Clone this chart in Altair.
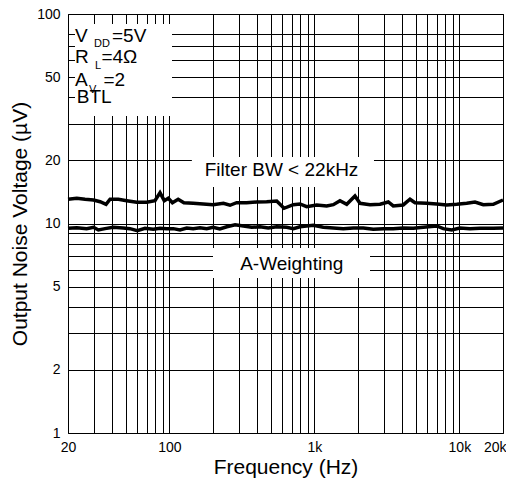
import altair as alt
import pandas as pd

# ---- data ----
bw_freq = [20, 23, 26.2, 30, 33.3, 36.6, 39, 44.5, 50.8, 59.6, 69.8, 79.6, 86.2, 92.3, 98.3,
           105, 115, 126, 146, 171, 200, 236, 262, 291, 341, 400, 469, 550, 618, 716, 796,
           885, 1038, 1216, 1352, 1502, 1672, 1906, 2064, 2420, 2838, 3236, 3500, 4100,
           4568, 4944, 5956, 6980, 8180, 9592, 11240, 12820, 14620, 17140, 20000]
bw_uv = [13.05, 13.19, 13.05, 12.95, 12.71, 12.35, 13.05, 13.05, 12.85, 12.63, 12.63, 12.85,
         14.03, 12.85, 13.19, 12.57, 13.05, 12.57, 12.49, 12.40, 12.30, 12.49, 12.22, 12.57,
         12.57, 12.67, 12.71, 12.81, 11.82, 12.30, 12.40, 12.03, 12.26, 12.13, 12.30, 12.85,
         12.35, 13.53, 12.49, 12.30, 12.35, 12.67, 12.13, 12.26, 13.05, 12.57, 12.49, 12.40,
         12.26, 12.35, 12.49, 12.67, 12.30, 12.35, 12.95]

aw_freq = [20, 23, 26.9, 30, 32.4, 36, 41, 48.1, 53.5, 60.1, 67.9, 77.5, 86.2, 95.9, 106.5,
           118.4, 131.8, 146, 162.6, 181, 200, 223, 249, 284, 324, 370, 422, 481, 550, 644,
           716, 796, 885, 984, 1152, 1352, 1584, 1856, 2176, 2550, 2988, 3500, 4100, 4810,
           5638, 6980, 7746, 8854, 10100, 11840, 13880, 17140, 20000]
aw_uv = [9.49, 9.55, 9.45, 9.59, 9.31, 9.45, 9.59, 9.52, 9.45, 9.24, 9.49, 9.38, 9.49, 9.45,
         9.45, 9.31, 9.52, 9.45, 9.55, 9.45, 9.59, 9.41, 9.65, 9.87, 9.73, 9.59, 9.65, 9.52,
         9.65, 9.59, 9.45, 9.65, 9.73, 9.80, 9.59, 9.52, 9.45, 9.52, 9.52, 9.38, 9.45, 9.45,
         9.52, 9.49, 9.59, 9.73, 9.45, 9.31, 9.52, 9.45, 9.49, 9.49, 9.52]

x_grid = [20, 30, 40, 50, 60, 70, 80, 90, 100, 200, 300, 400, 500, 600, 700, 800, 900,
          1000, 2000, 3000, 4000, 5000, 6000, 7000, 8000, 9000, 10000, 20000]
y_grid = [1, 2, 3, 4, 5, 6, 7, 8, 9, 10, 20, 30, 40, 50, 60, 70, 80, 100]

# white label boxes (freq / value extents)
box_f0 = [22.35, 143, 200]
box_f1 = [104.3, 2578, 2420]
box_v0 = [32.6, 14.94, 5.5]
box_v1 = [89.6, 20.77, 7.64]

# annotation texts
big_text = ["V", "=5V", "R", "=4\u03a9", "A", "=2", "BTL"]
big_f = [22.35, 40.2, 22.35, 34.0, 22.35, 35.1, 23.0]
big_v = [73.9, 73.9, 58.3, 58.3, 45.3, 45.3, 37.8]

lbl_text = ["Filter BW < 22kHz", "A-Weighting"]
lbl_f = [594, 698]
lbl_v = [16.9, 6.03]

sub_text = ["DD", "L", "V"]
sub_f = [30.2, 30.7, 27.9]
sub_v = [69.2, 54.6, 42.0]

FONT = "Liberation Sans"

lines_df = pd.DataFrame({
    "freq": bw_freq + aw_freq,
    "uv": bw_uv + aw_uv,
    "series": ["Filter BW < 22kHz"] * len(bw_freq) + ["A-Weighting"] * len(aw_freq),
})
box_df = pd.DataFrame({"f0": box_f0, "f1": box_f1, "v0": box_v0, "v1": box_v1})
big_df = pd.DataFrame({"f": big_f, "v": big_v, "t": big_text})
lbl_df = pd.DataFrame({"f": lbl_f, "v": lbl_v, "t": lbl_text})
sub_df = pd.DataFrame({"f": sub_f, "v": sub_v, "t": sub_text})

x_scale = alt.Scale(type="log", domain=[20, 20000], nice=False)
y_scale = alt.Scale(type="log", domain=[1, 100], nice=False)

x_labels = ("datum.value==20?'20':datum.value==100?'100':datum.value==1000?'1k':"
            "datum.value==10000?'10k':datum.value==20000?'20k':''")
y_labels = ("datum.value==1?'1':datum.value==2?'2':datum.value==5?'5':datum.value==10?'10':"
            "datum.value==20?'20':datum.value==50?'50':datum.value==100?'100':''")

x_axis = alt.Axis(values=x_grid, labelExpr=x_labels, title="Frequency (Hz)", grid=True,
                  ticks=False, domain=False, labelFlush=False, labelOverlap=False,
                  labelPadding=7, titlePadding=2,
                  labelAlign={"condition": {"test": "datum.value == 20000", "value": "right"},
                              "value": "center"},
                  labelOffset={"condition": {"test": "datum.value == 20000", "value": 3},
                               "value": 0})
y_axis = alt.Axis(values=y_grid, labelExpr=y_labels, title="Output Noise Voltage (\u00b5V)",
                  grid=True, ticks=False, domain=False, labelFlush=False, labelOverlap=False,
                  labelPadding=8, titlePadding=6)

lines = alt.Chart(lines_df).mark_line(color="black", strokeWidth=3.5).encode(
    x=alt.X("freq:Q", scale=x_scale, axis=x_axis),
    y=alt.Y("uv:Q", scale=y_scale, axis=y_axis),
    detail="series:N",
)

boxes = alt.Chart(box_df).mark_rect(color="white").encode(
    x=alt.X("f0:Q", scale=x_scale), x2="f1:Q",
    y=alt.Y("v0:Q", scale=y_scale), y2="v1:Q",
)

big = alt.Chart(big_df).mark_text(
    font=FONT, fontSize=19, color="black", align="left", baseline="alphabetic"
).encode(x=alt.X("f:Q", scale=x_scale), y=alt.Y("v:Q", scale=y_scale), text="t:N")

lbl = alt.Chart(lbl_df).mark_text(
    font=FONT, fontSize=19, color="black", align="center", baseline="alphabetic"
).encode(x=alt.X("f:Q", scale=x_scale), y=alt.Y("v:Q", scale=y_scale), text="t:N")

sub = alt.Chart(sub_df).mark_text(
    font=FONT, fontSize=11, color="black", align="left", baseline="alphabetic"
).encode(x=alt.X("f:Q", scale=x_scale), y=alt.Y("v:Q", scale=y_scale), text="t:N")

chart = alt.layer(boxes, lines, big, lbl, sub).properties(
    width=435, height=419,
    autosize=alt.AutoSizeParams(type="none"),
    padding={"left": 60, "top": 6, "right": 3, "bottom": 46},
).configure(font=FONT).configure_view(
    stroke="black", strokeWidth=1
).configure_axis(
    gridColor="black", gridWidth=1, gridOpacity=1,
    labelFont=FONT, labelFontSize=14, labelColor="black",
    titleFont=FONT, titleFontSize=21, titleFontWeight="normal", titleColor="black",
)

chart.save("out.html", embed_options={"renderer": "svg", "actions": False})
